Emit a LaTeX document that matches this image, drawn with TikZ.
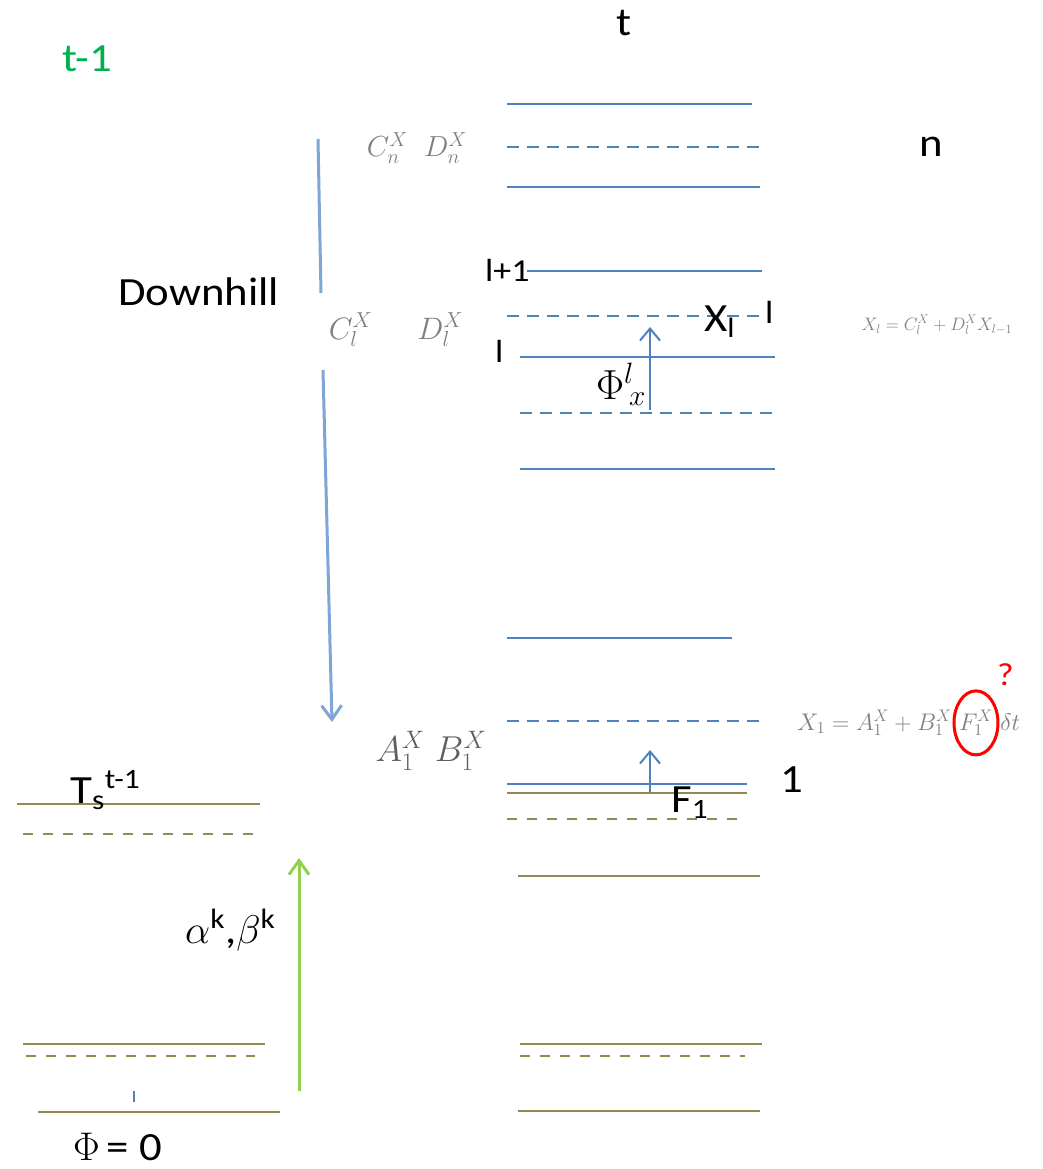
\RequirePackage{fix-cm}
\documentclass[tikz,border=0pt]{standalone}
\usepackage{fontspec}
\setmainfont{Carlito}[FakeStretch=1.12]
\usetikzlibrary{arrows.meta,shapes.geometric}
\definecolor{lvlblue}{HTML}{4F81BD}
\definecolor{fadeblue}{HTML}{7FA5D6}
\definecolor{lvlolive}{HTML}{938953}
\definecolor{stepgreen}{HTML}{92D050}
\definecolor{titlegreen}{HTML}{00B050}
\definecolor{coefgray}{HTML}{7F7F7F}
\begin{document}
\begin{tikzpicture}[x=1pt, y=-1pt,
  lvl/.style={draw=lvlblue, line width=2pt},
  lvldash/.style={lvl, dash pattern=on 12pt off 8pt},
  old/.style={draw=lvlolive, line width=2pt},
  olddash/.style={old, dash pattern=on 10pt off 10pt},
  lbl/.style={inner sep=0pt, font=\fontsize{40}{48}\selectfont},
  small/.style={inner sep=0pt, font=\fontsize{32}{38}\selectfont},
  coef/.style={inner sep=0pt, text=coefgray, font=\fontsize{29}{34}\selectfont},
  eqn/.style={inner sep=0pt, text=coefgray},
  flow/.style={draw=lvlblue, line width=2pt, -{Straight Barb[length=12pt, width=20pt]}},
  downhill/.style={draw=fadeblue, line width=3pt},
  climb/.style={draw=stepgreen, line width=3pt, -{Straight Barb[length=14pt, width=20pt]}}
]
\useasboundingbox (0,0) rectangle (1042,1169);

\foreach \y/\xa/\xb/\st in {104/507/752/lvl, 147/507/760/lvldash, 187/507/760/lvl,
    271/527/762/lvl, 316/507/760/lvldash, 357/520/775/lvl, 413/520/775/lvldash,
    469/520/775/lvl, 638/507/732/lvl, 721/507/760/lvldash, 784/507/747/lvl,
    793/507/747/old, 819/507/737/olddash, 876/518/760/old, 1044/520/762/old,
    1056/520/745/olddash, 1111/518/760/old, 804/17/260/old, 834/23/253/olddash,
    1044/23/265/old, 1056/26/255/olddash, 1112/38/280/old}
  \draw[\st] (\xa,\y) -- (\xb,\y);
\draw[lvl] (134,1091) -- (134,1102);

% titles
\node (prev) [lbl, anchor=base west, text=titlegreen] at (62,72) {t-1};
\node (cur) [lbl, anchor=base west] at (616,36) {t};
\node (top) [lbl, anchor=base west] at (919,157) {n};
\node (dhill) [lbl, anchor=base west] at (118,305) {Downhill};

% level l
\node (lup) [small, anchor=base west] at (485,281) {l+1};
\node (lcur) [small, anchor=base west] at (495,362) {l};
\node (lend) [small, anchor=base west] at (765,323) {l};
\node (xl) [lbl, anchor=base west] at (704,331) {X\textsubscript{l}};
\node (phi) [anchor=base west, inner sep=0pt, font=\fontsize{42}{50}\selectfont] at (596,399) {$\Phi^{l}{}_{\!x}$};
\coordinate (phia) at (650,410);
\coordinate (phib) at (650,327);
\draw[flow] (phia) -- (phib);

% level 1
\node (one) [lbl, anchor=base west] at (780,792) {1};
\node (fone) [lbl, anchor=base west] at (671,812) {F\textsubscript{1}};
\coordinate (fa) at (650,792);
\coordinate (fb) at (650,750);
\draw[flow] (fa) -- (fb);

% coefficients
\node (cdn) [coef] at (417,148) {$C_n^X\;\;D_n^X$};
\node (cdl) [coef, font=\fontsize{31}{36}\selectfont] at (396,330) {$C_l^X\quad\;\, D_l^X$};
\node (ab1) [coef, text=coefgray!75!black, font=\fontsize{36}{42}\selectfont] at (431,751) {$A_1^X\;B_1^X$};

% equations
\node (eql) [eqn, font=\fontsize{18}{22}\selectfont] at (937,325) {$X_l = C_l^X + D_l^X X_{l-1}$};
\node (eqa) [eqn, anchor=base west, font=\fontsize{24}{30}\selectfont] at (797,730) {$X_1 = A_1^X + B_1^X$};
\node (eqf) [eqn, anchor=base west, font=\fontsize{24}{30}\selectfont] at ([xshift=7pt]eqa.base east) {$F_1^X$};
\node (eqt) [eqn, anchor=base west, font=\fontsize{24}{30}\selectfont] at ([xshift=7pt]eqf.base east) {$\delta t$};
\node (ring) [ellipse, draw=red, line width=3pt, minimum width=44pt, minimum height=64pt] at (eqf) {};
\node (ask) [small, anchor=base west, text=red] at (997,685) {?};

% downhill sweep
\coordinate (dha) at (318,139);
\coordinate (dhb) at (321,293);
\coordinate (dhc) at (323,370);
\coordinate (dhd) at (332,722);
\draw[downhill] (dha) -- (dhb);
\draw[downhill, -{Straight Barb[length=14pt, width=20pt]}] (dhc) -- (dhd);

% previous step
\node (ts) [lbl, anchor=base west] at (70,803) {T\textsubscript{s}\textsuperscript{t-1}};
\node (ab) [lbl, anchor=base west] at (185,943) {$\alpha$\textsuperscript{k},$\beta$\textsuperscript{k}};
\node (zero) [lbl, anchor=base west] at (73,1160) {$\Phi$\,= 0};
\coordinate (ga) at (299,1091);
\coordinate (gb) at (299,858);
\draw[climb] (ga) -- (gb);
\end{tikzpicture}
\end{document}
